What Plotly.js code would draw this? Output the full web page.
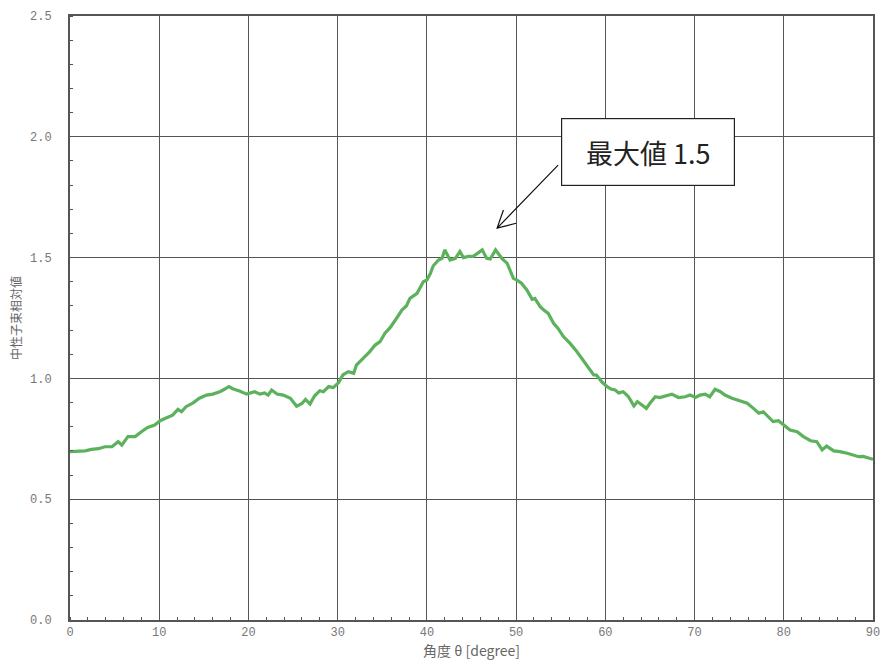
<!DOCTYPE html>
<html>
<head>
<meta charset="utf-8">
<script src="https://cdn.plot.ly/plotly-3.0.1.min.js"></script>
<style>html,body{margin:0;padding:0;background:#fff;}#chart{width:882px;height:666px;}</style>
</head>
<body>
<div id="chart"></div>
<script>
// Angle (degree) values
const angle = [0, 0.9, 1.7, 2.4, 3.2, 3.9, 4.7, 5.4, 5.8, 6.5, 7.3, 8.0, 8.7, 9.5, 10.1, 10.7, 11.5, 12.1, 12.5, 13.0,
  13.8, 14.5, 15.3, 16.0, 16.8, 17.3, 17.8, 18.3, 19.0, 19.8, 20.4, 20.7, 21.3, 21.8, 22.2, 22.6, 23.2, 23.9, 24.7, 25.4,
  26.0, 26.4, 26.9, 27.4, 28.0, 28.4, 29.0, 29.5, 30.1, 30.6, 31.2, 31.8, 32.1, 32.9, 33.6, 34.2, 34.75, 35.3, 35.9, 36.6,
  37.2, 37.7, 38.1, 38.9, 39.6, 40.0, 40.4, 40.7, 41.3, 41.7, 42.0, 42.6, 43.2, 43.7, 44.1, 44.65, 45.2, 46.2, 46.7, 47.1,
  47.7, 48.4, 49.0, 49.3, 49.7, 50.1, 50.6, 51.2, 51.8, 52.1, 52.7, 53.1, 53.6, 54.2, 54.7, 55.3, 56.05, 56.8, 57.5, 58.1,
  58.7, 59.0, 59.6, 60.2, 60.7, 61.1, 61.5, 62.0, 62.6, 63.2, 63.6, 64.1, 64.6, 65.0, 65.6, 66.1, 66.7, 67.45, 68.2, 68.95,
  69.5, 70.1, 70.6, 71.2, 71.7, 72.3, 72.9, 73.4, 74.2, 74.9, 75.9, 76.6, 77.2, 77.7, 78.3, 78.8, 79.4, 80.0, 80.7, 81.5,
  82.2, 83.0, 83.7, 84.3, 84.8, 85.6, 86.3, 87.1, 87.8, 88.4, 88.9, 89.7, 90];
// Relative neutron flux values
const flux = [0.697, 0.700, 0.700, 0.706, 0.709, 0.717, 0.717, 0.738, 0.724, 0.759, 0.759, 0.779, 0.797, 0.807, 0.825, 0.835, 0.848, 0.872, 0.862, 0.883,
  0.899, 0.918, 0.931, 0.935, 0.945, 0.955, 0.966, 0.956, 0.948, 0.935, 0.940, 0.945, 0.935, 0.940, 0.931, 0.952, 0.935, 0.931, 0.918, 0.885,
  0.896, 0.913, 0.894, 0.927, 0.949, 0.945, 0.966, 0.962, 0.982, 1.015, 1.028, 1.021, 1.055, 1.083, 1.111, 1.138, 1.152, 1.187, 1.211, 1.249,
  1.283, 1.300, 1.331, 1.352, 1.400, 1.407, 1.435, 1.465, 1.490, 1.497, 1.532, 1.490, 1.497, 1.525, 1.500, 1.505, 1.505, 1.532, 1.497, 1.494,
  1.532, 1.497, 1.476, 1.449, 1.414, 1.407, 1.394, 1.366, 1.327, 1.331, 1.297, 1.283, 1.269, 1.228, 1.207, 1.173, 1.145, 1.111, 1.076, 1.042,
  1.014, 1.014, 0.986, 0.966, 0.955, 0.952, 0.940, 0.945, 0.924, 0.886, 0.904, 0.890, 0.876, 0.897, 0.924, 0.921, 0.928, 0.935, 0.921, 0.924,
  0.931, 0.921, 0.931, 0.935, 0.924, 0.955, 0.945, 0.931, 0.918, 0.908, 0.897, 0.876, 0.856, 0.862, 0.842, 0.821, 0.825, 0.807, 0.786, 0.779,
  0.759, 0.742, 0.738, 0.704, 0.720, 0.700, 0.697, 0.690, 0.683, 0.676, 0.677, 0.669, 0.665];

const xTicks = [0, 10, 20, 30, 40, 50, 60, 70, 80, 90];
const yTicks = [0.0, 0.5, 1.0, 1.5, 2.0, 2.5];
const xTitle = '角度 θ [degree]';
const yTitle = '中性子束相対値';
const noteText = '最大値 1.5';
const notePos = {x: 64.8, y: 1.937};
const arrowTail = {x: 54.71, y: 1.883};
const arrowHead = {x: 47.87, y: 1.622};
const arrowArm1 = {x: 48.58, y: 1.697};
const arrowArm2 = {x: 50.0, y: 1.642};

const tickFont = {family: 'Liberation Mono, DejaVu Sans Mono, monospace', size: 12, color: '#777'};
const titleFont = {family: 'Noto Sans CJK JP, sans-serif', size: 14, color: '#666'};

const trace = {
  x: angle, y: flux, type: 'scatter', mode: 'lines',
  line: {color: 'rgb(92,178,92)', width: 3.2},
  hoverinfo: 'skip'
};

const layout = {
  width: 882, height: 666,
  margin: {l: 70, r: 9, t: 16, b: 46},
  paper_bgcolor: '#fff', plot_bgcolor: '#fff',
  showlegend: false,
  xaxis: {
    range: [0, 90], tickvals: xTicks, ticktext: xTicks.map(String),
    showgrid: true, gridcolor: '#555', gridwidth: 1,
    showline: true, linecolor: '#555', linewidth: 2, mirror: true,
    ticks: '', tickfont: tickFont, zeroline: false,
    minor: {dtick: 2, tick0: 0, ticks: 'inside', ticklen: 3, tickcolor: '#555', tickwidth: 1, showgrid: false},
    title: {text: xTitle, font: titleFont, standoff: 5}
  },
  yaxis: {
    range: [0, 2.5], tickvals: yTicks, ticktext: yTicks.map(v => v.toFixed(1)),
    showgrid: true, gridcolor: '#555', gridwidth: 1,
    showline: true, linecolor: '#555', linewidth: 2, mirror: true,
    ticks: '', tickfont: tickFont, zeroline: false, ticklabelstandoff: 14,
    minor: {dtick: 0.1, tick0: 0, ticks: 'inside', ticklen: 3, tickcolor: '#555', tickwidth: 1, showgrid: false},
    title: {text: yTitle, font: {family: 'Noto Sans CJK JP, sans-serif', size: 12, color: '#666'}, standoff: 6}
  },
  shapes: [{
    type: 'path', xref: 'x', yref: 'y',
    path: `M ${arrowTail.x},${arrowTail.y} L ${arrowHead.x},${arrowHead.y} M ${arrowArm1.x},${arrowArm1.y} L ${arrowHead.x},${arrowHead.y} L ${arrowArm2.x},${arrowArm2.y}`,
    line: {color: '#111', width: 1.2}
  }],
  annotations: [{
    x: notePos.x, y: notePos.y, xref: 'x', yref: 'y',
    text: noteText, showarrow: false,
    font: {family: 'Noto Sans CJK JP, sans-serif', size: 27, color: '#222'},
    bgcolor: '#fff', bordercolor: '#222', borderwidth: 1.2, borderpad: 0,
    width: 172, height: 66, align: 'center', valign: 'middle'
  }]
};

Plotly.newPlot('chart', [trace], layout, {displayModeBar: false, staticPlot: true});
</script>
</body>
</html>
